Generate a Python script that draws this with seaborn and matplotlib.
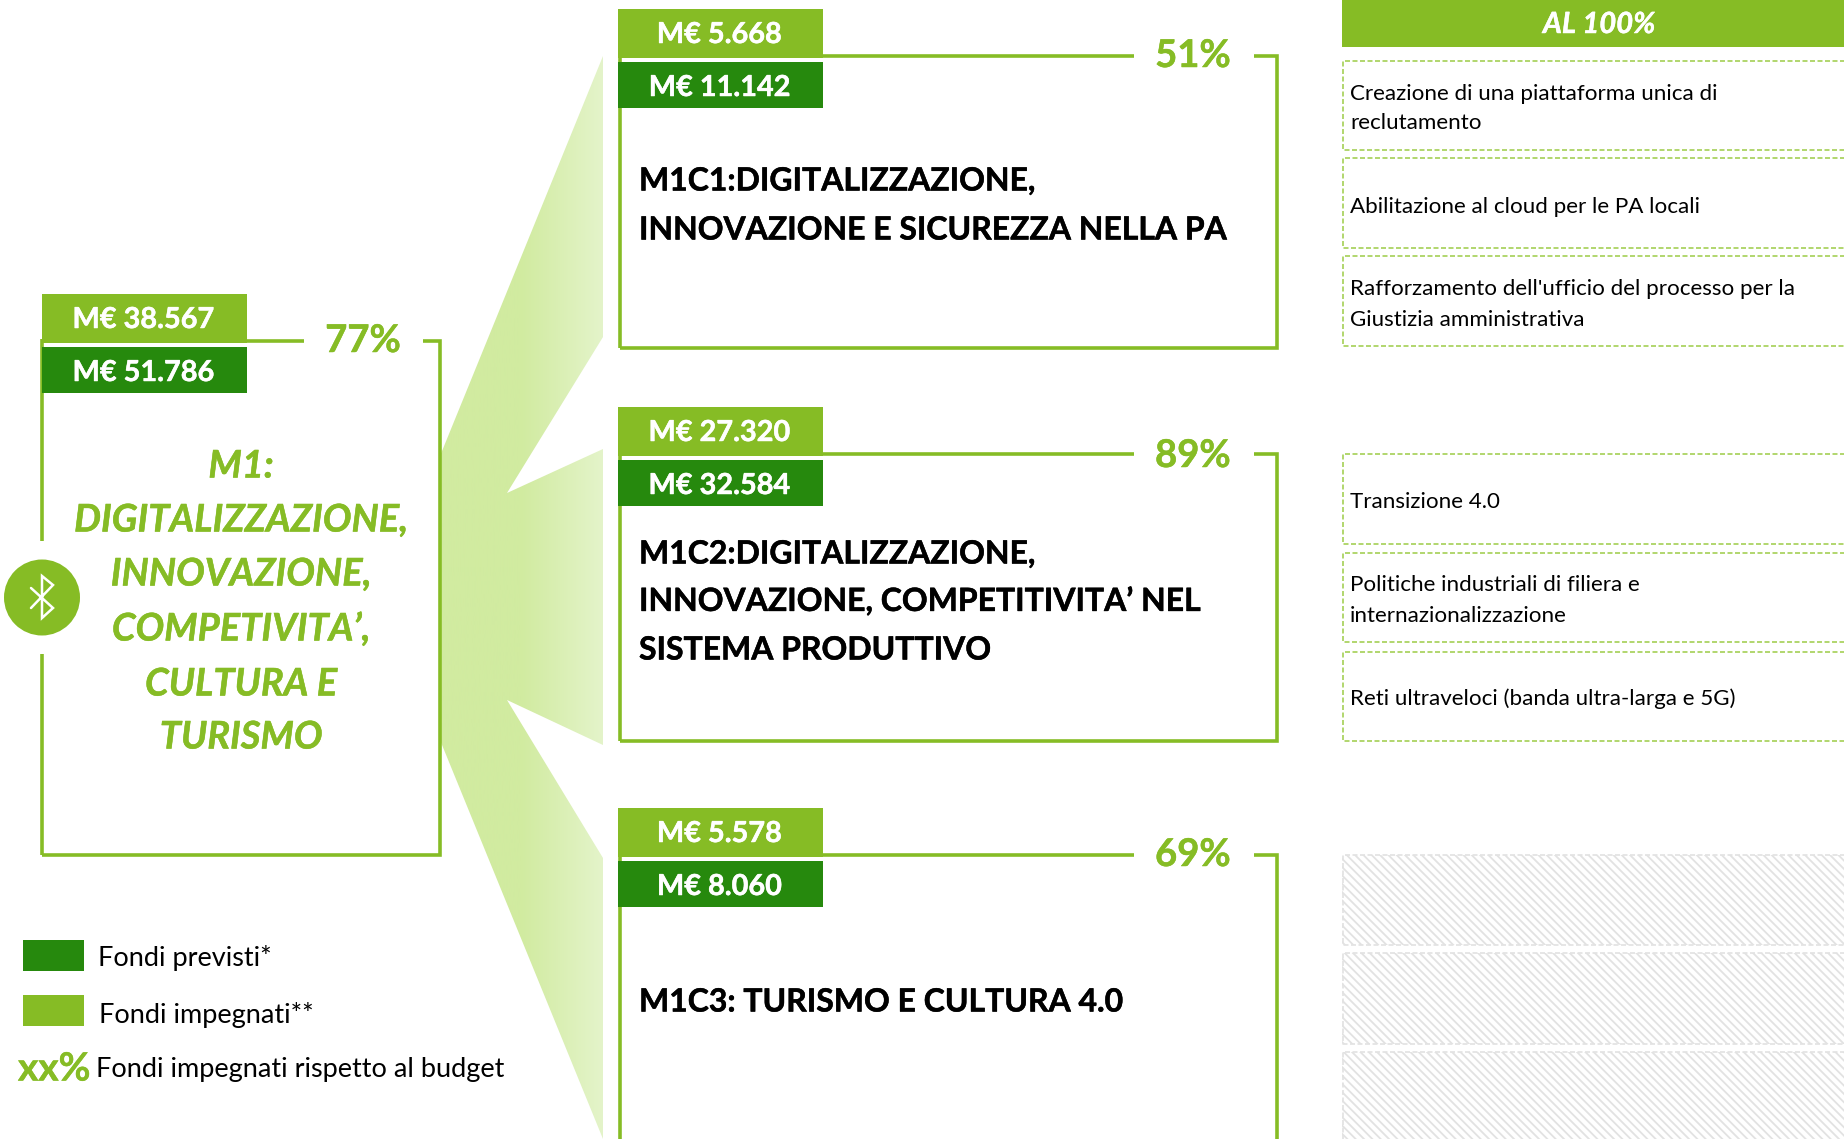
import numpy as np
import matplotlib
matplotlib.use("Agg")
import matplotlib.pyplot as plt
import matplotlib.patheffects as pe
import seaborn as sns
from matplotlib.patches import Rectangle, Polygon, Circle

# Data
mission_title = ["M1:", "DIGITALIZZAZIONE,", "INNOVAZIONE,", "COMPETIVITA’,", "CULTURA E", "TURISMO"]
mission_impegnati = "M€ 38.567"
mission_previsti = "M€ 51.786"
mission_pct = "77%"

comp_impegnati = ["M€ 5.668", "M€ 27.320", "M€ 5.578"]
comp_previsti = ["M€ 11.142", "M€ 32.584", "M€ 8.060"]
comp_pct = ["51%", "89%", "69%"]
comp_titles = [
    ["M1C1:DIGITALIZZAZIONE,", "INNOVAZIONE E SICUREZZA NELLA PA"],
    ["M1C2:DIGITALIZZAZIONE,", "INNOVAZIONE, COMPETITIVITA’ NEL", "SISTEMA PRODUTTIVO"],
    ["M1C3: TURISMO E CULTURA 4.0"],
]
investimenti = [
    ["Creazione di una piattaforma unica di", "reclutamento"],
    ["Abilitazione al cloud per le PA locali"],
    ["Rafforzamento dell'ufficio del processo per la", "Giustizia amministrativa"],
    ["Transizione 4.0"],
    ["Politiche industriali di filiera e", "internazionalizzazione"],
    ["Reti ultraveloci (banda ultra-larga e 5G)"],
]
header = "AL 100%"
legend_labels = ["Fondi previsti*", "Fondi impegnati**", "Fondi impegnati rispetto al budget"]

LIGHT = "#86BC25"
DARK = "#26890D"
DASH = "#A4D055"

sns.set_theme(style="white")
plt.rcParams['font.family'] = ['Lato', 'DejaVu Sans']
plt.rcParams['hatch.linewidth'] = 1.3

fig = plt.figure(figsize=(18.44, 11.39), dpi=100)
ax = fig.add_axes([0, 0, 1, 1])
ax.set_xlim(0, 1844)
ax.set_ylim(1139, 0)
ax.axis("off")


def bold_text(x, y, txt, color, size, stroke=0.35, **kw):
    # Lato bold is a bit lighter than the original face
    t = ax.text(x, y, txt, color=color, fontsize=size, fontweight="bold", **kw)
    t.set_path_effects([pe.withStroke(linewidth=stroke, foreground=color)])
    return t


# funnel with gradient
funnel = Polygon([(440, 456), (603, 56), (603, 337), (507, 493), (603, 449), (603, 745),
                  (507, 700), (603, 858), (603, 1139), (440, 740)],
                 closed=True, fc="none", ec="none")
ax.add_patch(funnel)
cmap = sns.blend_palette(["#D1EBA0", "#D1EBA0", "#E4F4CA"], as_cmap=True)
img = ax.imshow(np.linspace(0, 1, 256)[None, :], cmap=cmap, extent=(440, 603, 1139, 0),
                aspect="auto", zorder=1)
img.set_clip_path(funnel)
ax.set_xlim(0, 1844)
ax.set_ylim(1139, 0)


def money_box(xl, x0, x1, top, line_y, previsti, impegnati, pct, right, bottom, pct_x, line_end, corner, pct_dy=0):
    lw = 2.6
    ax.plot([xl, xl], [line_y - 2, bottom], color=LIGHT, lw=lw, zorder=2, solid_capstyle="butt")
    ax.plot([x1, line_end], [line_y, line_y], color=LIGHT, lw=lw, zorder=2, solid_capstyle="butt")
    ax.plot([corner, right, right, xl], [line_y, line_y, bottom, bottom], color=LIGHT, lw=lw,
            zorder=2, solid_joinstyle="miter", solid_capstyle="butt")
    ax.add_patch(Rectangle((x0, top), x1 - x0, line_y + 2 - top, fc=LIGHT, ec="none", zorder=3))
    ax.add_patch(Rectangle((xl + 2, line_y + 2), x1 - xl - 2, 4, fc="white", ec="none", zorder=3))
    ax.add_patch(Rectangle((x0, line_y + 6), x1 - x0, 46, fc=DARK, ec="none", zorder=3))
    bold_text((x0 + x1) / 2 - 1, line_y - 13, impegnati, "white", 20.8, ha="center", va="baseline", zorder=4)
    bold_text((x0 + x1) / 2 - 1, line_y + 40, previsti, "white", 20.8, ha="center", va="baseline", zorder=4)
    bold_text(pct_x, line_y + 11 + pct_dy, pct, LIGHT, 27.5, ha="center", va="baseline", zorder=4)


# mission box
money_box(42, 42, 247, 294, 341, mission_previsti, mission_impegnati, mission_pct,
          440, 855, 363, 304, 423)
ax.add_patch(Rectangle((36, 541), 12, 113, fc="white", ec="none", zorder=2.5))
ax.add_patch(Circle((42, 597.5), 38, fc=LIGHT, ec="none", zorder=3))
ax.plot([31, 53, 42, 42, 53, 31], [588, 608, 618, 576, 585, 608], color="white", lw=1.8,
        zorder=4, solid_joinstyle="miter")
for txt, y in zip(mission_title, [466, 520, 574, 629, 684, 737]):
    bold_text(241, y, txt, LIGHT, 27.4, fontstyle="italic", ha="center", va="center")

# component boxes
tops = [9, 407, 808]
line_ys = [56, 454, 855]
bottoms = [348, 741, 1160]
title_ys = [[181, 230], [554, 601, 650], [1002]]
pct_shift = [0, 2, 0]
for i in range(3):
    money_box(620, 618, 823, tops[i], line_ys[i], comp_previsti[i], comp_impegnati[i], comp_pct[i],
              1277, bottoms[i], 1193, 1134, 1254, pct_dy=pct_shift[i])
    for txt, y in zip(comp_titles[i], title_ys[i]):
        bold_text(639, y, txt, "black", 23, ha="left", va="center")

# right column
ax.add_patch(Rectangle((1342, 0), 502, 47, fc=LIGHT, ec="none"))
bold_text(1599, 25, header, "white", 21, fontstyle="italic", ha="center", va="center")

dash_rows = [(61, 150), (158, 248), (256, 346), (454, 544), (553, 642), (652, 741)]
text_rows = [[94, 123], [207], [289, 320], [502], [585, 616], [699]]
for (y0, y1), lines, ys in zip(dash_rows, investimenti, text_rows):
    ax.plot([1900, 1343, 1343, 1900], [y0, y0, y1, y1], color=DASH, lw=1.2, ls=(0, (3.0, 1.5)), zorder=2)
    for txt, y in zip(lines, ys):
        ax.text(1350, y, txt, color="black", fontsize=16.1, ha="left", va="center")

# hatched rows, no text in them
for y0, y1 in [(855, 945), (953, 1044), (1052, 1160)]:
    ax.add_patch(Rectangle((1342, y0), 520, y1 - y0, fc="white", ec="#E2E2E2", hatch="\\\\\\\\", lw=0, zorder=2))
    ax.plot([1900, 1343, 1343, 1900], [y0, y0, y1, y1], color="#E2E2E2", lw=1.2, ls=(0, (3.0, 1.5)), zorder=2.5)

# legend
ax.add_patch(Rectangle((23, 940), 61, 31, fc=DARK, ec="none"))
ax.add_patch(Rectangle((23, 995), 61, 31, fc=LIGHT, ec="none"))
ax.text(98, 958, legend_labels[0], color="black", fontsize=19.5, ha="left", va="center")
ax.text(99, 1015, legend_labels[1], color="black", fontsize=19.5, ha="left", va="center")
bold_text(18, 1069, "xx%", LIGHT, 28, ha="left", va="center")
ax.text(96, 1069, legend_labels[2], color="black", fontsize=19.5, ha="left", va="center")

fig.savefig("out.png", dpi=100)
